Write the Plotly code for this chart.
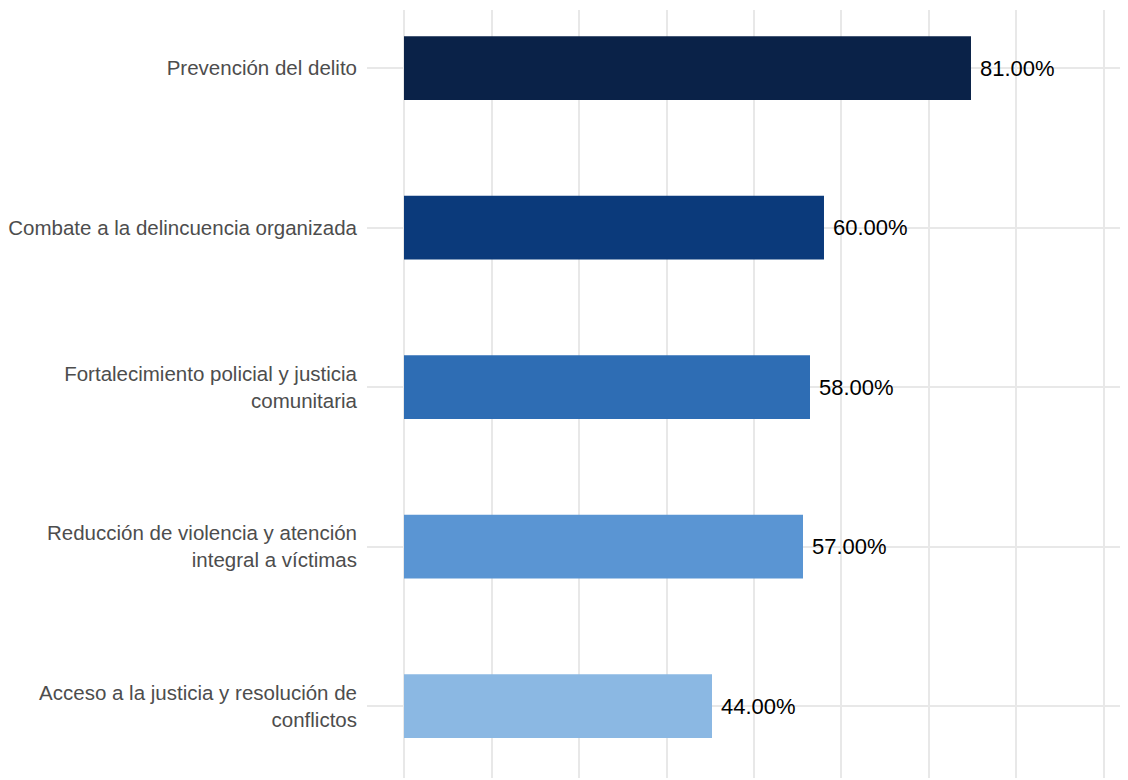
import plotly.graph_objects as go

categories = [
    "Acceso a la justicia y resolución de<br>conflictos",
    "Reducción de violencia y atención<br>integral a víctimas",
    "Fortalecimiento policial y justicia<br>comunitaria",
    "Combate a la delincuencia organizada",
    "Prevención del delito",
]
values = [44.0, 57.0, 58.0, 60.0, 81.0]
colors = ["#8bb8e3", "#5a95d3", "#2e6db4", "#0b3a7b", "#0a2248"]

positions = list(range(len(categories)))

fig = go.Figure(
    go.Bar(
        x=values,
        y=positions,
        orientation="h",
        width=0.4,
        marker=dict(color=colors, line=dict(width=0)),
        hoverinfo="skip",
    )
)

for v, p in zip(values, positions):
    fig.add_annotation(
        x=v, y=p, text=f"{v:.2f}%", showarrow=False,
        xanchor="left", yanchor="middle", xshift=7,
        font=dict(size=22, color="#000000", family="Liberation Sans, Arial, sans-serif"),
    )

fig.update_layout(
    width=1120,
    height=772,
    margin=dict(l=359, r=0, t=2, b=2),
    paper_bgcolor="white",
    plot_bgcolor="white",
    showlegend=False,
    font=dict(family="Liberation Sans, Arial, sans-serif"),
)
fig.update_xaxes(
    range=[-5.286, 103.43],
    tick0=0,
    dtick=12.5,
    showticklabels=False,
    showgrid=True,
    gridcolor="#e8e8e8",
    gridwidth=1.5,
    zeroline=False,
    showline=False,
    ticks="",
)
fig.update_yaxes(
    range=[-0.451, 4.364],
    tickmode="array",
    tickvals=positions,
    ticktext=categories,
    tickfont=dict(size=20.5, color="#4d4d4d"),
    showgrid=True,
    gridcolor="#e8e8e8",
    gridwidth=1.5,
    zeroline=False,
    showline=False,
    ticks="",
    ticklabelstandoff=9,
)

fig.write_html("out.html")
